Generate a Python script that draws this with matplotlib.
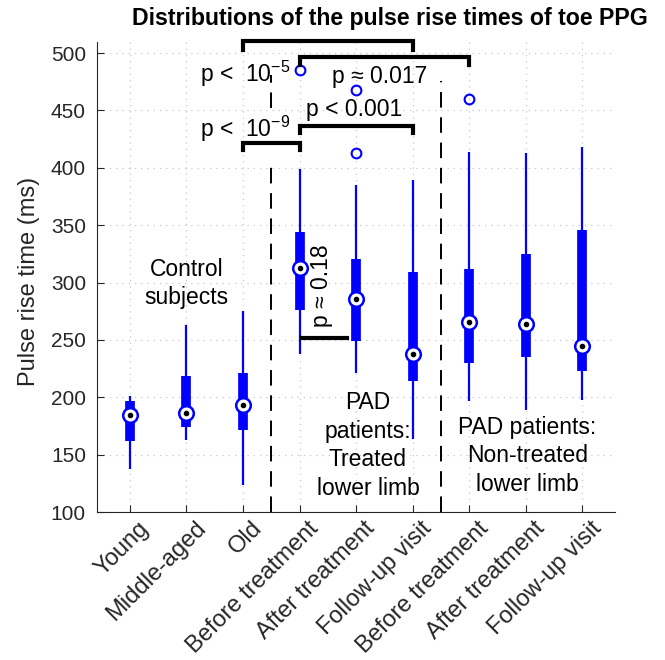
import matplotlib.pyplot as plt
import matplotlib.transforms as mtransforms
import numpy as np

plt.rcParams['font.family'] = ['Liberation Sans', 'DejaVu Sans']

labels = ['Young', 'Middle-aged', 'Old', 'Before treatment', 'After treatment',
          'Follow-up visit', 'Before treatment', 'After treatment', 'Follow-up visit']
# whisker low, q1, median, q3, whisker high (ms)
w_lo = [138, 163, 124, 238, 221, 164, 197, 189, 198]
q1 = [162, 174, 172, 276, 249, 214, 230, 235, 223]
med = [185, 186, 193, 313, 286, 238, 266, 264, 245]
q3 = [197, 219, 221, 344, 321, 309, 312, 325, 346]
w_hi = [201, 263, 275, 399, 385, 389, 414, 413, 418]
out_x = [4, 5, 5, 7]
out_y = [485, 468, 413, 460]

blue = (0, 0, 1)
x = np.arange(1, len(labels) + 1)

fig = plt.figure(figsize=(6.65, 6.6), dpi=100)
ax = fig.add_axes([0.146, 0.224, 0.779, 0.713])

ax.vlines(x, w_lo, w_hi, color=blue, lw=1.6, zorder=3)
ax.vlines(x, q1, q3, color=blue, lw=7, capstyle='butt', zorder=3)
ax.plot(x, med, 'o', ms=10.5, mfc='white', mec=blue, mew=1.8, zorder=4)
ax.plot(x, med, 'o', ms=3, color='black', zorder=5)
ax.plot(out_x, out_y, 'o', ms=7, mfc='none', mec=blue, mew=1.5, zorder=4)

# group separators
dash = dict(color='black', lw=1.4, dashes=(8, 5), zorder=2)
ax.plot([3.5, 3.5], [100, 402], **dash)
ax.plot([3.5, 3.5], [452, 481], **dash)
ax.plot([6.5, 6.5], [100, 476], **dash)

# significance brackets
def bracket(x0, x1, y, drop):
    ax.plot([x0, x0, x1, x1], [y - drop, y, y, y - drop], color='black', lw=3,
            solid_joinstyle='miter', clip_on=False, zorder=6)

bracket(3, 6, 510.5, 8)
bracket(4, 7, 497, 7)
bracket(4, 6, 436.5, 6)
bracket(3, 4, 421.5, 6)
ax.plot([4.05, 4.84], [251.5, 251.5], color='black', lw=3, zorder=6)

fs = 16.5
ax.text(2.24, 482, r'p <  10$^{\mathregular{-5}}$', fontsize=fs, ha='left', va='center', zorder=7)
ax.text(2.24, 434, r'p <  10$^{\mathregular{-9}}$', fontsize=fs, ha='left', va='center', zorder=7)
ax.text(5.42, 480, 'p \u2248 0.017', fontsize=fs, ha='center', va='center', zorder=7)
ax.text(4.96, 451, 'p < 0.001', fontsize=fs, ha='center', va='center', zorder=7)
ax.text(4.38, 297, 'p \u2248 0.18', fontsize=fs, ha='center', va='center', rotation=90, zorder=7)

ax.text(2.0, 299, 'Control\nsubjects', fontsize=fs, ha='center', va='center', linespacing=1.3)
ax.text(5.21, 158, 'PAD\npatients:\nTreated\nlower limb', fontsize=fs, ha='center', va='center', linespacing=1.3)
ax.text(8.03, 149, 'PAD patients:\nNon-treated\nlower limb', fontsize=fs, ha='center', va='center', linespacing=1.3)

ax.set_xlim(0.42, 9.58)
ax.set_ylim(100, 510)
ax.set_yticks(np.arange(100, 501, 50))
ax.set_xticks(x)
ax.set_xticklabels([])
# rotated category labels, nudged to sit like the original
lab_tr = mtransforms.blended_transform_factory(ax.transData, ax.transAxes) + \
    mtransforms.ScaledTranslation(8 / 100, -5 / 100, fig.dpi_scale_trans)
for xi, lab in zip(x, labels):
    ax.text(xi, 0, lab, transform=lab_tr, rotation=45, ha='right', va='top',
            rotation_mode='anchor', fontsize=17, color='#262626')
ax.tick_params(direction='in', colors='#262626', length=5)
ax.tick_params(axis='y', labelsize=15, pad=8)
ax.grid(True, linestyle=(0, (1, 4)), color='#c8c8c8', lw=0.9)
ax.set_axisbelow(True)
for s in ['top', 'right']:
    ax.spines[s].set_visible(False)
for s in ['left', 'bottom']:
    ax.spines[s].set_color('#262626')
ax.set_ylabel('Pulse rise time (ms)', fontsize=17, color='#262626')
ax.yaxis.set_label_coords(-0.11, 0.49)

fig.text(0.587, 0.972, 'Distributions of the pulse rise times of toe PPG', fontsize=16.7,
         fontweight='bold', ha='center', va='center')

fig.savefig('out.png', dpi=100)
